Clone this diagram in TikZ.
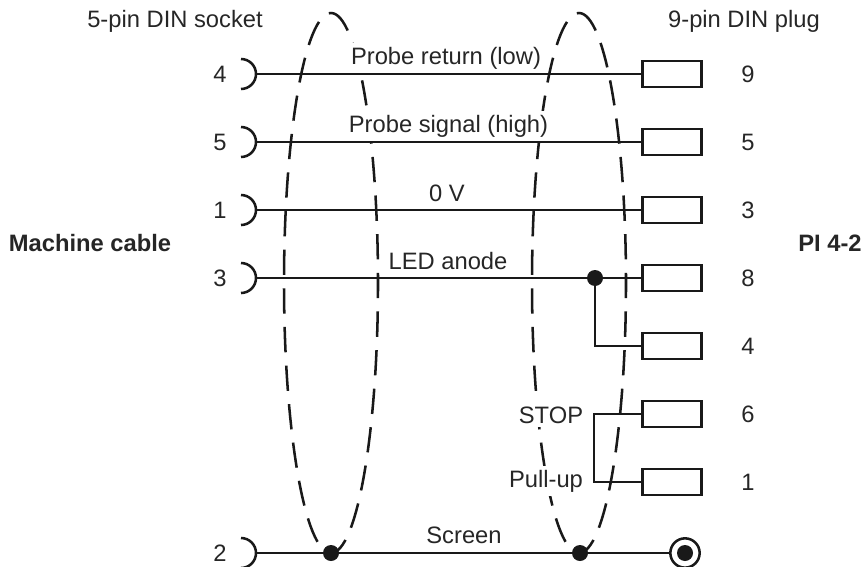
\documentclass[tikz,border=0pt]{standalone}
\usepackage{fontspec}
\setmainfont{Liberation Sans}
\usetikzlibrary{positioning}
\tikzset{
  wire/.style={line width=1.7pt, color=black!90},
  heavywire/.style={line width=2.2pt, color=black!90},
  screenline/.style={line width=1.9pt, color=black!90, dash pattern=on 19pt off 10pt},
  plugbox/.style={draw=black!90, line width=1.9pt, fill=white, minimum width=44pt, minimum height=19.5pt, inner sep=0pt},
  pin/.style={font=\fontsize{17.8}{20}\selectfont, text=black!85},
  wirelabel/.style={pin, fill=white, inner xsep=0.5pt, inner ysep=3pt},
  joint/.style={circle, fill=black!90, minimum size=12pt, inner sep=0pt},
  socketarc/.style={line width=1.9pt, color=black!90}
}
\newcommand{\socketcup}[1]{\draw[socketarc] ([shift={(-11.25pt,11.25pt)}]#1) arc[start angle=90, end angle=-90, radius=11.25pt];}
\begin{document}
\begin{tikzpicture}[x=0.75pt, y=-0.75pt]
      \useasboundingbox (0,0) rectangle (867,567);
      % Screen loops
      \draw[screenline] (331,13) arc[start angle=90, end angle=-270, x radius=35.25pt, y radius=202.5pt];
      \draw[screenline] (579,13) arc[start angle=90, end angle=-270, x radius=35.25pt, y radius=202.5pt];
      % Headings
      \node[pin] (sockethead) at (175,21) {5-pin DIN socket};
      \node[pin] (plughead) at (744,21) {9-pin DIN plug};
      \node[pin, font=\fontsize{17.8}{20}\selectfont\bfseries] (machine) at (90,243) {Machine cable};
      \node[pin, font=\fontsize{17.8}{20}\selectfont\bfseries] (probe) at (830,243) {PI 4-2};
      % Wire labels
      \node[wirelabel] (lreturn) at (446,58) {Probe return (low)};
      \node[wirelabel] (lsignal) at (448.5,126) {Probe signal (high)};
      \node[wirelabel] (lzero) at (447,193) {0 V};
      \node[wirelabel] (lled) at (448,261) {LED anode};
      \node[wirelabel] (lstop) at (551,415) {STOP};
      \node[wirelabel] (lpull) at (546,481) {Pull-up};
      \node[wirelabel] (lscreen) at (464,535) {Screen};
      % Socket side
      \coordinate (s4) at (256,74);
      \coordinate (s5) at (256,142);
      \coordinate (s1) at (256,210);
      \coordinate (s3) at (256,278);
      \coordinate (s2) at (256,553);
      \socketcup{s4}
      \socketcup{s5}
      \socketcup{s1}
      \socketcup{s3}
      \socketcup{s2}
      \node[pin] (n4) at (220,74) {4};
      \node[pin] (n5) at (220,142) {5};
      \node[pin] (n1) at (220,210) {1};
      \node[pin] (n3) at (220,278) {3};
      \node[pin] (n2) at (220,553) {2};
      % Plug side
      \node[plugbox] (p9) at (672,74) {};
      \node[plugbox] (p5) at (672,142) {};
      \node[plugbox] (p3) at (672,210) {};
      \node[plugbox] (p8) at (672,278) {};
      \node[plugbox] (p4) at (672,346) {};
      \node[plugbox] (p6) at (672,414) {};
      \node[plugbox] (p1) at (672,482) {};
      \node[pin] (m9) at (748,74) {9};
      \node[pin] (m5) at (748,142) {5};
      \node[pin] (m3) at (748,210) {3};
      \node[pin] (m8) at (748,278) {8};
      \node[pin] (m4) at (748,346) {4};
      \node[pin] (m6) at (748,414) {6};
      \node[pin] (m1) at (748,482) {1};
      % Joints and earth
      \node[joint] (led) at (595,278) {};
      \node[joint] (scl) at (331,553) {};
      \node[joint] (scr) at (580,553) {};
      \node[circle, draw=black!90, line width=1.9pt, fill=white, minimum size=22pt, inner sep=0pt] (earth) at (685,553) {};
      \node[circle, fill=black!90, minimum size=12pt, inner sep=0pt] (earthdot) at (685,553) {};
      % Connect nodes
      \draw[wire] (s4) -- (p9.west);
      \draw[wire] (s5) -- (p5.west);
      \draw[wire] (s1) -- (p3.west);
      \draw[wire] (s3) -- (led) -- (p8.west);
      \draw[wire] (led) |- (p4.west);
      \draw[wire] (p6.west) -| (594,448) |- (p1.west);
      \draw[heavywire] (s2) -- (scl) -- (scr) -- (earth.west);
    \end{tikzpicture}
\end{document}
